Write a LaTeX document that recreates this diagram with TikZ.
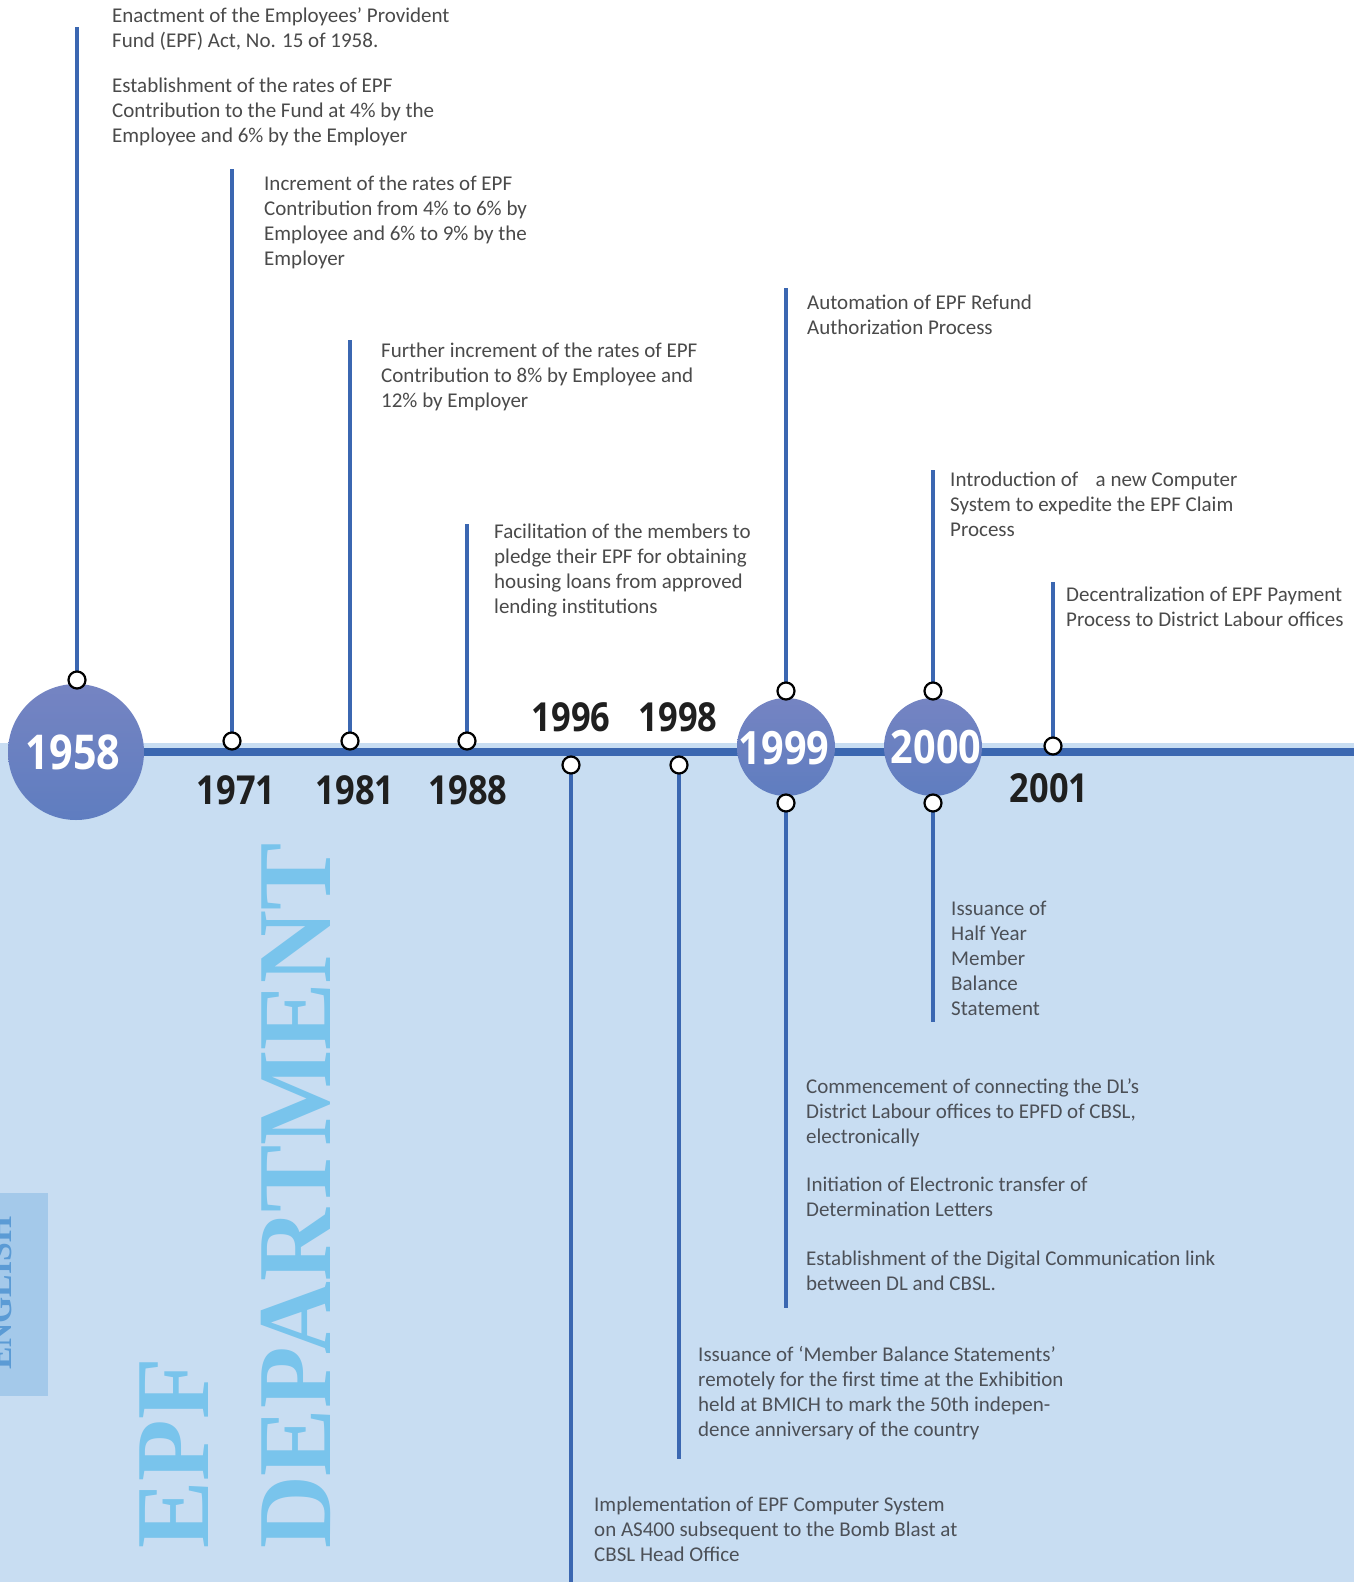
\documentclass[tikz,border=0pt]{standalone}
\usepackage{fontspec}
\setmainfont{Carlito}
\newfontfamily\yearfont[FakeStretch=0.86]{Open Sans}
\newfontfamily\titlefont[FakeStretch=0.96]{Liberation Serif}
\usetikzlibrary{backgrounds}
\definecolor{tl}{HTML}{3B67B1}
\definecolor{band}{HTML}{C8DDF2}
\definecolor{tabc}{HTML}{A4C9EA}
\definecolor{tabtext}{HTML}{5B9BD5}
\definecolor{titlec}{HTML}{79C4EC}
\definecolor{txt}{HTML}{4A4A4A}
\definecolor{txtb}{HTML}{4C5057}
\definecolor{ctop}{HTML}{7584C2}
\definecolor{cbot}{HTML}{5F7DC0}
\tikzset{
  stem/.style={line width=4.5pt, draw=tl},
  dot/.style={circle, draw=black, fill=white, line width=2.2pt, minimum size=17pt, inner sep=0pt},
  bigyear/.style={circle, top color=ctop, bottom color=cbot, draw=none, text=white, inner sep=0pt,
     font=\yearfont\bfseries\fontsize{48}{48}\selectfont},
  yearlbl/.style={inner sep=0pt, text=black!88, font=\yearfont\bfseries\fontsize{40}{40}\selectfont},
  desc/.style={anchor=north west, align=left, inner sep=0pt, text=txt, font=\fontsize{21}{24.8}\selectfont},
  descb/.style={desc, text=txtb},
  vtitle/.style={rotate=90, anchor=base west, inner sep=0pt, text=titlec,
     font=\titlefont\bfseries\fontsize{105}{105}\selectfont}
}
\begin{document}
\begin{tikzpicture}[x=1pt, y=-1pt]
\clip (0,0) rectangle (1354,1582);
% dots and big circles
\node[bigyear, minimum size=136pt] (c1958) at (76,752) {};
\node[bigyear, minimum size=98pt] (c1999) at (786,747) {};
\node[bigyear, minimum size=98pt] (c2000) at (933,747) {};
\node[text=white, inner sep=0pt, font=\yearfont\bfseries\fontsize{48}{48}\selectfont] (y1958) at (73,752) {1958};
\node[text=white, inner sep=0pt, font=\yearfont\bfseries\fontsize{46}{46}\selectfont] (y1999) at (784,748) {1999};
\node[text=white, inner sep=0pt, font=\yearfont\bfseries\fontsize{46}{46}\selectfont] (y2000) at (936,747) {2000};

\node[dot] (d1958) at (77,680) {};
\node[dot] (d1971) at (232,741) {};
\node[dot] (d1981) at (350,741) {};
\node[dot] (d1988) at (467,741) {};
\node[dot] (d1996) at (571,765) {};
\node[dot] (d1998) at (679,765) {};
\node[dot] (d1999a) at (786,691) {};
\node[dot] (d1999b) at (786,803) {};
\node[dot] (d2000a) at (933,691) {};
\node[dot] (d2000b) at (933,803) {};
\node[dot] (d2001) at (1053,746) {};

\coordinate (s1958) at (77,27);
\coordinate (s1971) at (232,169);
\coordinate (s1981) at (350,340);
\coordinate (s1988) at (467,524);
\coordinate (s1996) at (571,1590);
\coordinate (s1998) at (679,1459);
\coordinate (s1999a) at (786,288);
\coordinate (s1999b) at (786,1308);
\coordinate (s2000a) at (933,470);
\coordinate (s2000b) at (933,1022);
\coordinate (s2001) at (1053,582);
\coordinate (lineend) at (1360,752);

\begin{pgfonlayer}{background}
\fill[white] (0,0) rectangle (1354,1582);
\fill[band] (0,743) rectangle (1354,1582);
\node[vtitle] (epf) at (208,1549) {EPF};
\node[vtitle] (dept) at (330,1549) {DEPARTMENT};
\fill[tabc] (0,1193) rectangle (47.5,1396);
\node[rotate=90, anchor=base west, inner sep=0pt, text=tabtext,
      font=\titlefont\bfseries\fontsize{35}{35}\selectfont] (eng) at (11,1370) {ENGLISH};
\draw[line width=8pt, draw=tl] (c1958.center) -- (lineend);
\draw[stem] (d1958.center) -- (s1958);
\draw[stem] (d1971.center) -- (s1971);
\draw[stem] (d1981.center) -- (s1981);
\draw[stem] (d1988.center) -- (s1988);
\draw[stem] (d1996.center) -- (s1996);
\draw[stem] (d1998.center) -- (s1998);
\draw[stem] (d1999a.center) -- (s1999a);
\draw[stem] (d1999b.center) -- (s1999b);
\draw[stem] (d2000a.center) -- (s2000a);
\draw[stem] (d2000b.center) -- (s2000b);
\draw[stem] (d2001.center) -- (s2001);
\end{pgfonlayer}

% year labels
\node[yearlbl] (l1971) at (236,790) {1971};
\node[yearlbl] (l1981) at (355,790) {1981};
\node[yearlbl] (l1988) at (468,790) {1988};
\node[yearlbl] (l1996) at (571,717) {1996};
\node[yearlbl] (l1998) at (678,717) {1998};
\node[yearlbl] (l2001) at (1049,788) {2001};

% descriptions
\node[desc] (t1958a) at (112,5.4) {\strut Enactment of the Employees’ Provident\\Fund (EPF) Act, No. 15 of 1958.};
\node[desc] (t1958b) at (112,75.4) {\strut Establishment of the rates of EPF\\Contribution to the Fund at 4\% by the\\Employee and 6\% by the Employer};
\node[desc] (t1971) at (264,173.4) {\strut Increment of the rates of EPF\\Contribution from 4\% to 6\% by\\Employee and 6\% to 9\% by the\\Employer};
\node[desc] (t1981) at (381,340.4) {\strut Further increment of the rates of EPF\\Contribution to 8\% by Employee and\\12\% by Employer};
\node[desc] (t1988) at (494,521.4) {\strut Facilitation of the members to\\pledge their EPF for obtaining\\housing loans from approved\\lending institutions};
\node[desc] (t1999a) at (807,292.4) {\strut Automation of EPF Refund\\Authorization Process};
\node[desc] (t2000a) at (950,469.4) {\strut Introduction of\hspace{0.6em} a new Computer\\System to expedite the EPF Claim\\Process};
\node[desc] (t2001) at (1066,584.4) {\strut Decentralization of EPF Payment\\Process to District Labour offices};
\node[descb] (t2000b) at (951,898.4) {\strut Issuance of\\Half Year\\Member\\Balance\\Statement};
\node[descb] (t1999b1) at (806,1076.4) {\strut Commencement of connecting the DL’s\\District Labour offices to EPFD of CBSL,\\electronically};
\node[descb] (t1999b2) at (806,1174.4) {\strut Initiation of Electronic transfer of\\Determination Letters};
\node[descb] (t1999b3) at (806,1248.4) {\strut Establishment of the Digital Communication link\\between DL and CBSL.};
\node[descb] (t1998) at (698,1344.4) {\strut Issuance of ‘Member Balance Statements’\\remotely for the first time at the Exhibition\\held at BMICH to mark the 50th indepen-\\dence anniversary of the country};
\node[descb] (t1996) at (594,1494.4) {\strut Implementation of EPF Computer System\\on AS400 subsequent to the Bomb Blast at\\CBSL Head Office};
\end{tikzpicture}
\end{document}
